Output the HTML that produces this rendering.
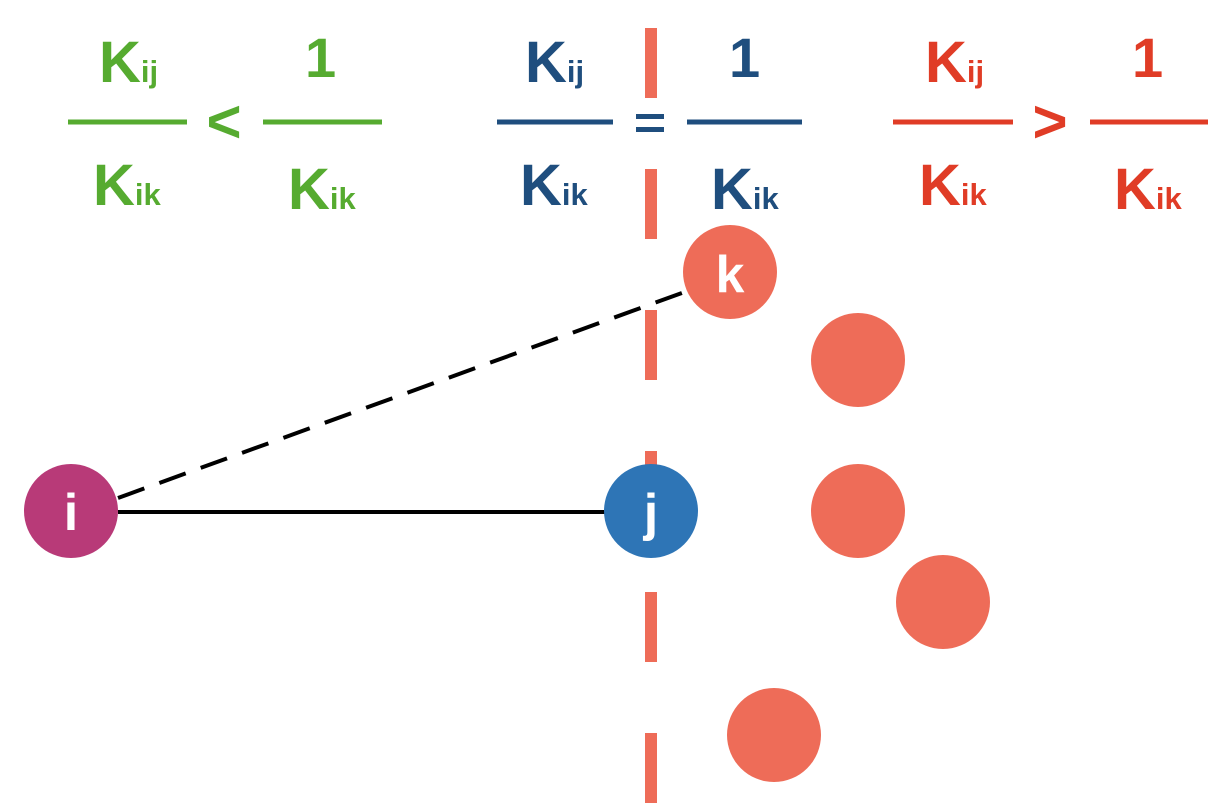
<!DOCTYPE html>
<html><head><style>body{margin:0;background:#fff}svg{display:block}</style></head><body>
<svg width="1218" height="810" viewBox="0 0 1218 810" xmlns="http://www.w3.org/2000/svg" font-family="Liberation Sans, Arial, sans-serif" font-weight="bold">
<line x1="651" y1="28" x2="651" y2="810" stroke="#ee6c58" stroke-width="12" stroke-dasharray="70 71"/>
<g fill="#56ab30">
<text x="99" y="82" font-size="58">K<tspan font-size="31">ij</tspan></text>
<text x="305" y="77" font-size="56">1</text>
<text x="93" y="205" font-size="58">K<tspan font-size="31">ik</tspan></text>
<text x="288" y="209" font-size="58">K<tspan font-size="31">ik</tspan></text>
<text x="224" y="142" font-size="60" text-anchor="middle">&lt;</text>
</g>
<g stroke="#56ab30" stroke-width="5"><line x1="68" y1="122" x2="187" y2="122"/><line x1="263" y1="122" x2="382" y2="122"/></g>
<g fill="#1f4e7e">
<text x="525" y="82" font-size="58">K<tspan font-size="31">ij</tspan></text>
<text x="729" y="77" font-size="56">1</text>
<text x="520" y="205" font-size="58">K<tspan font-size="31">ik</tspan></text>
<text x="711" y="209" font-size="58">K<tspan font-size="31">ik</tspan></text>
<rect x="636" y="114" width="28" height="5"/><rect x="636" y="127" width="28" height="5"/>
</g>
<g stroke="#1f4e7e" stroke-width="5"><line x1="497" y1="122" x2="613" y2="122"/><line x1="687" y1="122" x2="802" y2="122"/></g>
<g fill="#e03c26">
<text x="925" y="82" font-size="58">K<tspan font-size="31">ij</tspan></text>
<text x="1132" y="77" font-size="56">1</text>
<text x="919" y="205" font-size="58">K<tspan font-size="31">ik</tspan></text>
<text x="1114" y="209" font-size="58">K<tspan font-size="31">ik</tspan></text>
<text x="1050" y="142" font-size="60" text-anchor="middle">&gt;</text>
</g>
<g stroke="#e03c26" stroke-width="5"><line x1="893" y1="122" x2="1013" y2="122"/><line x1="1090" y1="122" x2="1208" y2="122"/></g>
<line x1="118" y1="512" x2="606" y2="512" stroke="#000" stroke-width="4"/>
<line x1="118" y1="498" x2="690" y2="290" stroke="#000" stroke-width="4" stroke-dasharray="28 16"/>
<g fill="#ee6c58">
<circle cx="730" cy="272" r="47"/><circle cx="858" cy="360" r="47"/><circle cx="858" cy="511" r="47"/><circle cx="943" cy="602" r="47"/><circle cx="774" cy="735" r="47"/>
</g>
<circle cx="71" cy="511" r="47" fill="#b83a78"/>
<circle cx="651" cy="511" r="47" fill="#2e75b6"/>
<g fill="#fff" font-size="52" text-anchor="middle">
<text x="730" y="292">k</text><text x="71" y="530">i</text><text x="651" y="530">j</text>
</g>
</svg>
</body></html>
